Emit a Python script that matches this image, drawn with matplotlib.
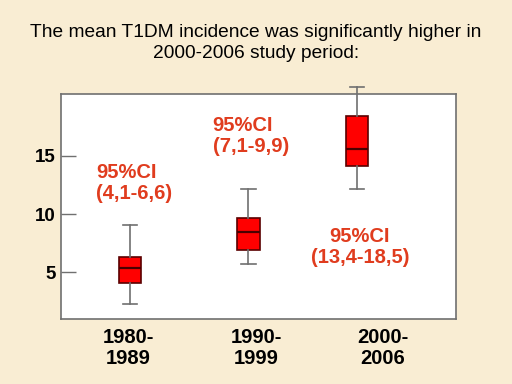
import matplotlib.pyplot as plt, numpy as np

# data
periods = ["1980-\n1989", "1990-\n1999", "2000-\n2006"]
whislo = [2.3, 5.7, 12.2]
q1 = [4.1, 6.9, 14.1]
med = [5.4, 8.5, 15.6]
q3 = [6.3, 9.7, 18.4]
whishi = [9.1, 12.2, 20.9]
ci_labels = ["95%CI\n(4,1-6,6)", "95%CI\n(7,1-9,9)", "95%CI\n(13,4-18,5)"]
yticks = [5, 10, 15]

plt.rcParams['font.family'] = ['Liberation Sans', 'DejaVu Sans']

bg = '#f9edd3'
fig = plt.figure(figsize=(5.12, 3.84), dpi=100, facecolor=bg)
ax = fig.add_axes([0.119, 0.169, 0.771, 0.586])
ax.set_facecolor('white')

stats = [dict(whislo=a, q1=b, med=c, q3=d, whishi=e, label='')
         for a, b, c, d, e in zip(whislo, q1, med, q3, whishi)]
pos = [0.7, 1.9, 3.0]
res = ax.bxp(stats, positions=pos, widths=0.23, capwidths=0.15, showfliers=False,
             patch_artist=True,
             boxprops=dict(facecolor='#ff0000', edgecolor='#5a0000', linewidth=1.2),
             medianprops=dict(color='#4a0000', linewidth=1.6),
             whiskerprops=dict(color='#707070', linewidth=1.2),
             capprops=dict(color='#707070', linewidth=1.2))
for k in res:
    for art in res[k]:
        art.set_clip_on(False)

ax.set_xlim(0, 4)
ax.set_ylim(1, 20.3)
ax.set_xticks([])
ax.set_yticks(yticks)
ax.set_yticklabels([str(t) for t in yticks], fontsize=13.5, fontweight='bold')
ax.tick_params(axis='y', direction='in', length=11, width=1, color='#707070', pad=4)
for s in ax.spines.values():
    s.set_color('#707070')
    s.set_linewidth(1.2)

red = '#e03c1e'
ax.text(0.089, 0.693, ci_labels[0], transform=ax.transAxes, ha='left', va='top',
        color=red, fontsize=14.5, fontweight='bold', linespacing=1.15)
ax.text(0.384, 0.902, ci_labels[1], transform=ax.transAxes, ha='left', va='top',
        color=red, fontsize=14.5, fontweight='bold', linespacing=1.15)
ax.text(0.757, 0.41, ci_labels[2], transform=ax.transAxes, ha='center', va='top',
        color=red, fontsize=14.5, fontweight='bold', linespacing=1.15, multialignment='center')

# period labels under the frame
for xp, lab in zip([128, 256, 383], periods):
    fig.text(xp / 512, 1 - 348 / 384, lab, ha='center', va='center',
             fontsize=14.5, fontweight='bold', linespacing=1.15)

fig.text(0.5, 1 - 43 / 384,
         "The mean T1DM incidence was significantly higher in\n2000-2006 study period:",
         ha='center', va='center', fontsize=13.8, linespacing=1.3)

fig.savefig('out.png', dpi=100, facecolor=bg)
